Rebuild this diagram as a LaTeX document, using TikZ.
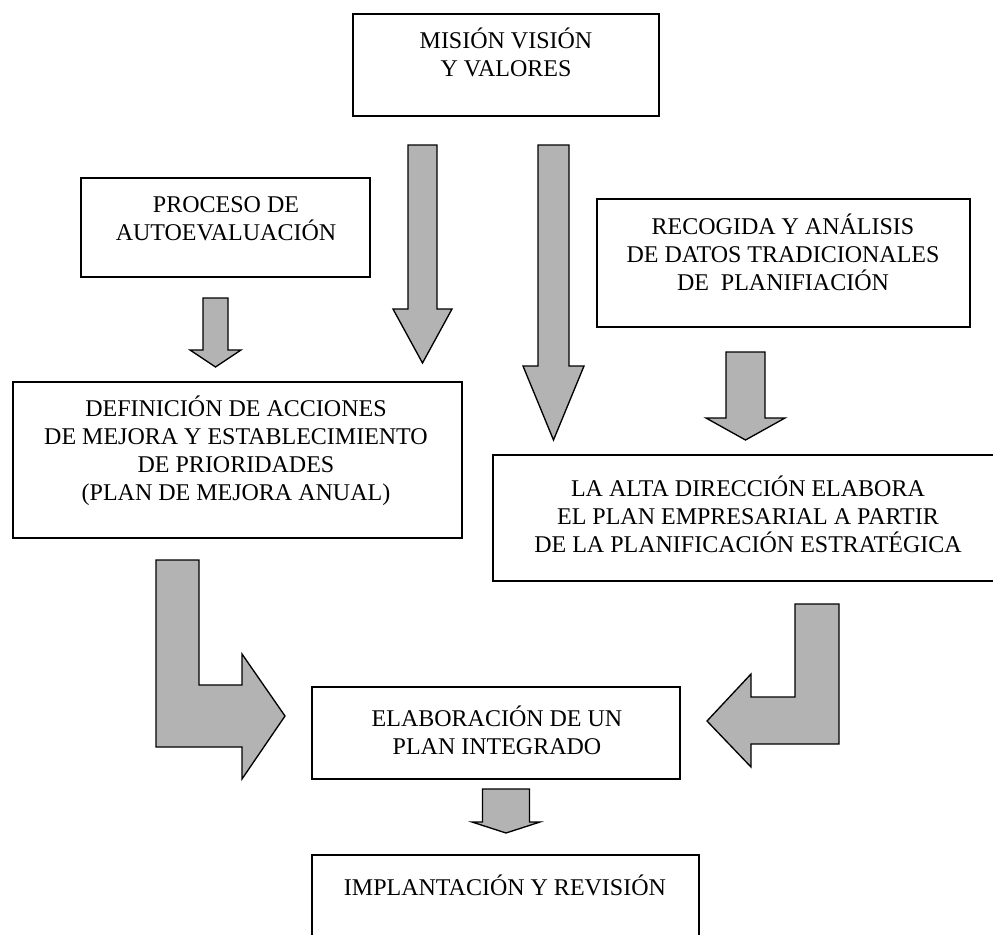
\documentclass[tikz,border=0pt]{standalone}
\usepackage{fontspec}
\setmainfont{Liberation Serif}
\usetikzlibrary{fit}
\definecolor{blockgray}{RGB}{179,179,179}
\begin{document}
\begin{tikzpicture}[x=0.75pt,y=-0.75pt,
  box/.style={draw=black, line width=1.2pt, inner sep=0pt},
  boxtext/.style={align=center, anchor=base, inner sep=0pt,
    font=\fontsize{18}{20.8}\selectfont},
  blockarrow/.style={draw=black, line width=1pt, fill=blockgray, line join=miter}]
\useasboundingbox (0,0) rectangle (993,935);
\clip (0,0) rectangle (993,935);

% boxes
\node[box, fit={(353,14)(659,116)}] (mvv) {};
\node[box, fit={(81,178)(370,277)}] (auto) {};
\node[box, fit={(597,199)(970,327)}] (datos) {};
\node[box, fit={(13,382)(462,538)}] (def) {};
\node[box, fit={(493,455)(1010,581)}] (alta) {};
\node[box, fit={(312,687)(680,779)}] (elab) {};
\node[box, fit={(312,855)(699,960)}] (impl) {};

% texts (anchored at the baseline of the last line)
\node[boxtext] (mvvtext) at (506,76) {MISIÓN VISIÓN\\Y VALORES};
\node[boxtext] (autotext) at (226,240) {PROCESO DE\\AUTOEVALUACIÓN};
\node[boxtext] (datostext) at (783,290) {RECOGIDA Y ANÁLISIS\\DE DATOS TRADICIONALES\\DE\ \ PLANIFIACIÓN};
\node[boxtext] (deftext) at (236,500) {DEFINICIÓN DE ACCIONES\\DE MEJORA Y ESTABLECIMIENTO\\DE PRIORIDADES\\(PLAN DE MEJORA ANUAL)};
\node[boxtext] (altatext) at (748,552) {LA ALTA DIRECCIÓN ELABORA\\EL PLAN EMPRESARIAL A PARTIR\\DE LA PLANIFICACIÓN ESTRATÉGICA};
\node[boxtext] (elabtext) at (497,754) {ELABORACIÓN DE UN\\PLAN INTEGRADO};
\node[boxtext] (impltext) at (505,895) {IMPLANTACIÓN Y REVISIÓN};

% block arrows
\draw[blockarrow] (408,145) -- (437,145) -- (437,309) -- (452,309) -- (422.5,363) -- (393,309) -- (408,309) -- cycle;
\draw[blockarrow] (538,145) -- (569,145) -- (569,366) -- (584,366) -- (553.5,440) -- (523,366) -- (538,366) -- cycle;
\draw[blockarrow] (203,298) -- (228,298) -- (228,350) -- (241,350) -- (215.5,367) -- (190,350) -- (203,350) -- cycle;
\draw[blockarrow] (726,352) -- (765,352) -- (765,418) -- (785,418) -- (745.5,440) -- (706,418) -- (726,418) -- cycle;
\draw[blockarrow] (482.5,789) -- (529.5,789) -- (529.5,822) -- (540,822) -- (506,833) -- (472,822) -- (482.5,822) -- cycle;
\draw[blockarrow] (156,560) -- (199,560) -- (199,685) -- (242,685) -- (242,654) -- (285,716) -- (242,779) -- (242,747) -- (156,747) -- cycle;
\draw[blockarrow] (795,604) -- (839,604) -- (839,744) -- (751,744) -- (751,767) -- (707,721) -- (751,674) -- (751,697) -- (795,697) -- cycle;
\end{tikzpicture}
\end{document}
